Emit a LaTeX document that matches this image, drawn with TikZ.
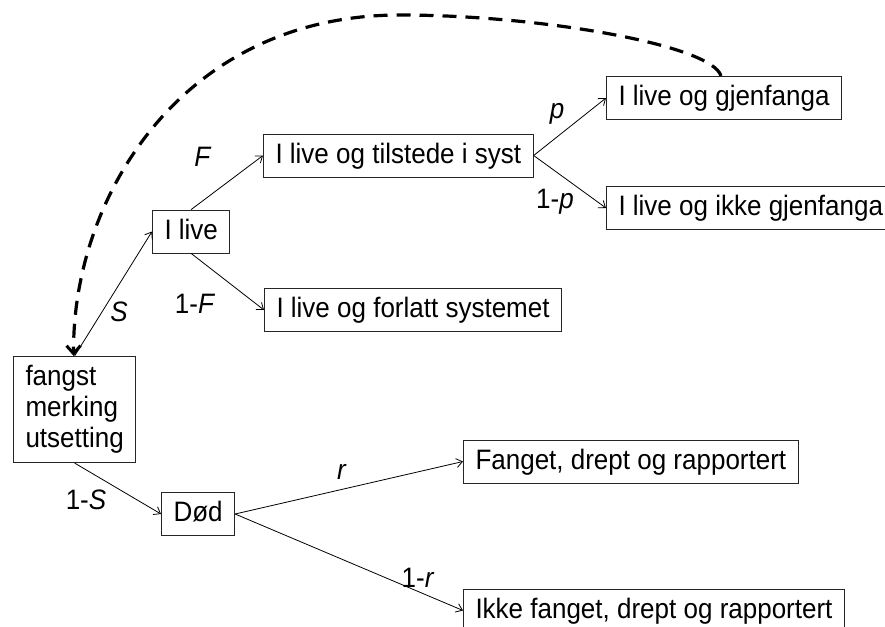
\documentclass[tikz,border=0pt]{standalone}
\usepackage{graphicx}
\usepackage{fontspec}
\setmainfont{Liberation Sans}
\usetikzlibrary{arrows.meta}
\newcommand{\vst}[1]{\scalebox{1}[1.08]{#1}}
\begin{document}
\begin{tikzpicture}[x=1pt,y=-1pt,
  every node/.style={font=\fontsize{26}{31}\selectfont},
  boxbase/.style={draw=black!85, line width=1pt, inner xsep=12pt, inner ysep=9pt, fill=white},
  onebox/.style={boxbase, text height=20pt, text depth=5pt, anchor=west},
  conn/.style={line width=0.8pt, -{Straight Barb[length=6pt,width=9pt]}},
  lbl/.style={inner sep=0pt},
  loopback/.style={line width=3.2pt, dash pattern=on 14pt off 9pt, -{Straight Barb[length=8pt,width=14pt,line width=3pt]}}
]
\useasboundingbox (0,0) rectangle (885,626);

\node[boxbase, align=left, minimum width=120pt, minimum height=105pt, anchor=west] (fangst) at (13,409.5) {\vst{fangst}\\\vst{merking}\\\vst{utsetting}};
\node[onebox] (ilive) at (152,231.5) {\vst{I live}};
\node[onebox] (tilst) at (263,155.5) {\vst{I live og tilstede i syst}};
\node[onebox] (forl) at (264,310) {\vst{I live og forlatt systemet}};
\node[onebox] (gjen) at (606,98) {\vst{I live og gjenfanga}};
\node[onebox] (ikkegj) at (606,208) {\vst{I live og ikke gjenfanga}};
\node[onebox] (dod) at (161,514) {\vst{Død}};
\node[onebox] (fanget) at (463,461.5) {\vst{Fanget, drept og rapportert}};
\node[onebox] (ikkef) at (463,610.5) {\vst{Ikke fanget, drept og rapportert}};

\draw[conn] (fangst.north) -- (ilive.west);
\draw[conn] (ilive.north) -- (tilst.west);
\draw[conn] (ilive.south) -- (forl.west);
\draw[conn] (tilst.east) -- (gjen.west);
\draw[conn] (tilst.east) -- (ikkegj.west);
\draw[conn] (fangst.south) -- (dod.west);
\draw[conn] (dod.east) -- (fanget.west);
\draw[conn] (dod.east) -- (ikkef.west);

\node[lbl] (lS) at (119,312) {\vst{\textit{S}}};
\node[lbl] (lF) at (203,157) {\vst{\textit{F}}};
\node[lbl] (l1F) at (195,304) {\vst{1-\textit{F}}};
\node[lbl] (lp) at (557,114) {\vst{\textit{p}}};
\node[lbl] (l1p) at (555,202) {\vst{1-\textit{p}}};
\node[lbl] (l1S) at (86,500) {\vst{1-\textit{S}}};
\node[lbl] (lr) at (342,472) {\vst{\textit{r}}};
\node[lbl] (l1r) at (418,578) {\vst{1-\textit{r}}};

\draw[loopback] ([xshift=-3pt]gjen.north) .. controls (712,45) and (540,15) .. (400,15)
  .. controls (180,15) and (72,200) .. ([xshift=-1pt]fangst.north);
\end{tikzpicture}
\end{document}
